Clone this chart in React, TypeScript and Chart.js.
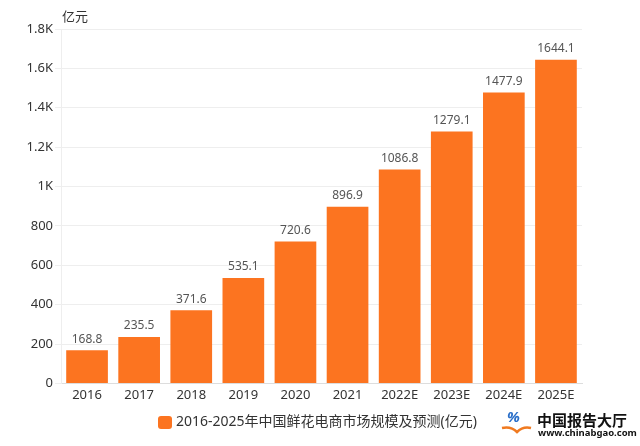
import React, { useEffect, useRef } from "react";
import { Chart, registerables } from "chart.js";

Chart.register(...registerables);

const categories = ["2016", "2017", "2018", "2019", "2020", "2021", "2022E", "2023E", "2024E", "2025E"];
const values = [168.8, 235.5, 371.6, 535.1, 720.6, 896.9, 1086.8, 1279.1, 1477.9, 1644.1];
const seriesName = "2016-2025年中国鲜花电商市场规模及预测(亿元)";
const unitLabel = "亿元";
const logoText = "中国报告大厅";
const logoUrl = "www.chinabgao.com";

const FONT = '"Noto Sans", "Noto Sans CJK SC", sans-serif';
const BAR = "#fc7420";

function roundRect(ctx: CanvasRenderingContext2D, x: number, y: number, w: number, h: number, r: number) {
  ctx.beginPath();
  ctx.moveTo(x + r, y);
  ctx.lineTo(x + w - r, y);
  ctx.quadraticCurveTo(x + w, y, x + w, y + r);
  ctx.lineTo(x + w, y + h - r);
  ctx.quadraticCurveTo(x + w, y + h, x + w - r, y + h);
  ctx.lineTo(x + r, y + h);
  ctx.quadraticCurveTo(x, y + h, x, y + h - r);
  ctx.lineTo(x, y + r);
  ctx.quadraticCurveTo(x, y, x + r, y);
  ctx.closePath();
}

const labelsPlugin = {
  id: "extras",
  afterDatasetsDraw(chart: any) {
    const ctx = chart.ctx;
    const meta = chart.getDatasetMeta(0);
    ctx.save();
    ctx.font = `12px ${FONT}`;
    ctx.fillStyle = "#555";
    ctx.textAlign = "center";
    ctx.textBaseline = "bottom";
    meta.data.forEach((el: any, i: number) => {
      ctx.fillText(values[i].toFixed(1), el.x, el.y - 5);
    });
    // unit label
    const ca = chart.chartArea;
    ctx.font = `13px ${FONT}`;
    ctx.fillStyle = "#333";
    ctx.textAlign = "left";
    ctx.textBaseline = "middle";
    ctx.fillText(unitLabel, ca.left + 1, 17);
    // legend
    ctx.fillStyle = BAR;
    roundRect(ctx, 158, 416, 14, 13, 3);
    ctx.fill();
    ctx.fillStyle = "#333";
    ctx.font = `14px ${FONT}`;
    ctx.textBaseline = "middle";
    ctx.fillText(seriesName, 176, 422);
    // logo
    const lx = 505;
    ctx.fillStyle = "#2a6fc9";
    ctx.font = `bold italic 15px ${FONT}`;
    ctx.fillText("%", lx + 2, 418);
    ctx.strokeStyle = "#f07a20";
    ctx.lineWidth = 2.5;
    ctx.beginPath();
    ctx.moveTo(lx - 3, 428);
    ctx.quadraticCurveTo(lx + 6, 426, lx + 12, 432);
    ctx.quadraticCurveTo(lx + 18, 426, lx + 26, 428);
    ctx.stroke();
    ctx.fillStyle = "#111";
    ctx.font = `bold 15px "Noto Sans CJK SC", sans-serif`;
    ctx.fillText(logoText, 537, 420);
    ctx.font = `bold 9.5px ${FONT}`;
    ctx.fillText(logoUrl, 538, 433);
    ctx.restore();
  },
};

export default function App() {
  const ref = useRef<HTMLCanvasElement>(null);
  useEffect(() => {
    const chart = new Chart(ref.current!, {
      type: "bar",
      data: {
        labels: categories,
        datasets: [
          {
            label: seriesName,
            data: values,
            backgroundColor: BAR,
            borderWidth: 0,
            barPercentage: 0.8,
            categoryPercentage: 1,
          },
        ],
      },
      options: {
        animation: false,
        responsive: false,
        maintainAspectRatio: false,
        layout: { padding: { top: 29, right: 58, left: 0, bottom: 39 } },
        plugins: {
          tooltip: { enabled: false },
          legend: { display: false },
        },
        scales: {
          x: {
            grid: { display: false, drawTicks: false },
            border: { color: "#ddd" },
            ticks: { font: { size: 13, family: FONT }, color: "#333", padding: 4 },
          },
          y: {
            min: 0,
            max: 1800,
            border: { display: true, color: "#eee" },
            grid: { color: "#eee", drawTicks: true, tickLength: 6 },
            afterFit(scale: any) {
              scale.width = 61;
            },
            ticks: {
              stepSize: 200,
              font: { size: 13, family: FONT },
              color: "#333",
              padding: 2,
              callback: (v: any) => (v >= 1000 ? v / 1000 + "K" : String(v)),
            },
          },
        },
      },
      plugins: [labelsPlugin],
    });
    return () => chart.destroy();
  }, []);
  return (
    <div style={{ position: "fixed", left: 0, top: 0, width: 640, height: 446, background: "#fff" }}>
      <canvas ref={ref} width={640} height={446} />
    </div>
  );
}
